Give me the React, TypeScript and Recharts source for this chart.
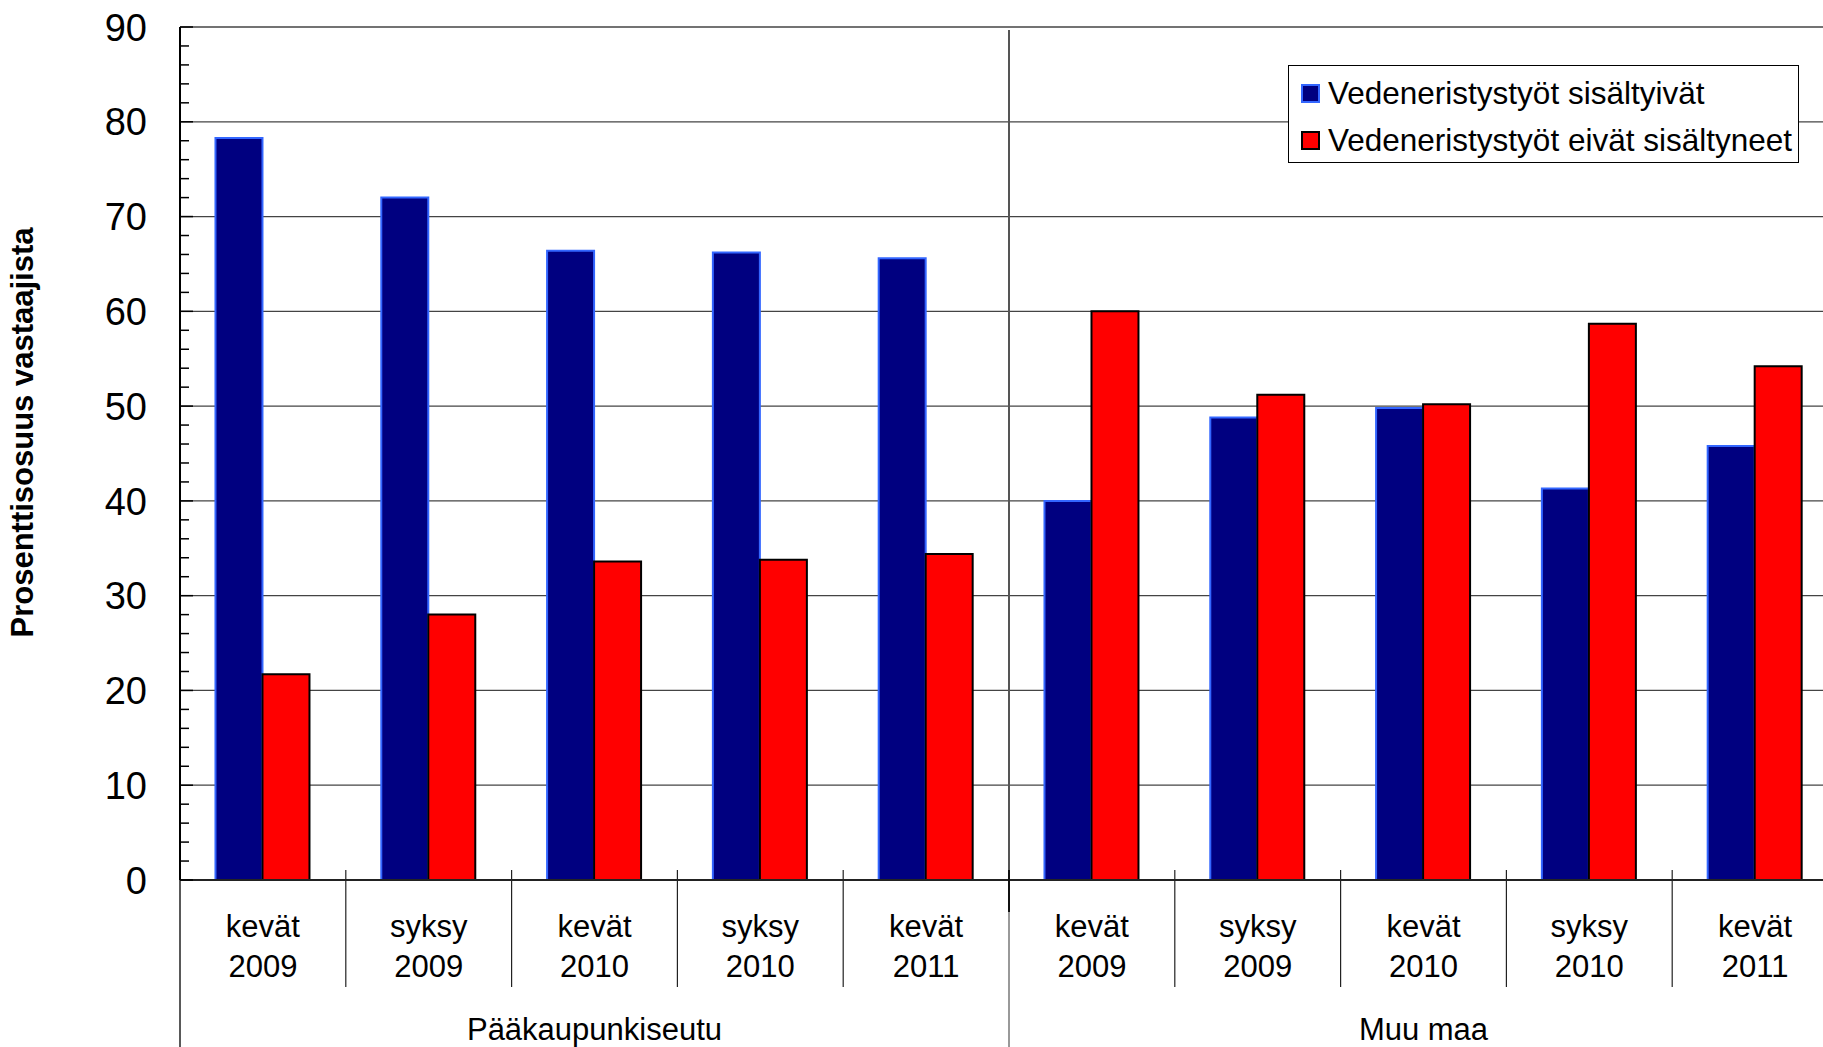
import { BarChart, Bar, XAxis, YAxis, CartesianGrid, Legend } from "recharts";

const seasons = ["kevät 2009", "syksy 2009", "kevät 2010", "syksy 2010", "kevät 2011"];
const regions = ["Pääkaupunkiseutu", "Muu maa"];

// % of respondents, per region, per season
const includedCapital = [78.3, 72.0, 66.4, 66.2, 65.6];
const excludedCapital = [21.7, 28.0, 33.6, 33.8, 34.4];
const includedRest = [40.0, 48.8, 49.8, 41.3, 45.8];
const excludedRest = [60.0, 51.2, 50.2, 58.7, 54.2];

const seriesNames = ["Vedeneristystyöt sisältyivät", "Vedeneristystyöt eivät sisältyneet"];
const yTitle = "Prosenttisosuus vastaajista";
const majorTicks = [0, 10, 20, 30, 40, 50, 60, 70, 80, 90];
const minorTicks = [
  0, 2, 4, 6, 8, 10, 12, 14, 16, 18, 20, 22, 24, 26, 28, 30, 32, 34, 36, 38, 40, 42, 44, 46,
  48, 50, 52, 54, 56, 58, 60, 62, 64, 66, 68, 70, 72, 74, 76, 78, 80, 82, 84, 86, 88, 90,
];

const data = regions.flatMap((region, r) =>
  seasons.map((season, i) => ({
    key: `${season}|${region}`,
    season,
    region,
    pos: i,
    included: (r === 0 ? includedCapital : includedRest)[i],
    excluded: (r === 0 ? excludedCapital : excludedRest)[i],
  }))
);

const series = [
  { key: "included", name: seriesNames[0], fill: "#000080", stroke: "#3366ff" },
  { key: "excluded", name: seriesNames[1], fill: "#ff0000", stroke: "#000000" },
];

const FONT = "'Liberation Sans', Arial, sans-serif";
const PLOT_TOP = 27;
const PLOT_H = 853;
const X_AXIS_H = 167;
const Y_MAX = 90;

// gridlines only at the labelled values (the axis itself carries ticks every 2)
const gridRows = majorTicks.filter((v) => v > 0).map((v) => PLOT_TOP + PLOT_H * (1 - v / Y_MAX));

function YTick({ x, y, payload }: any) {
  const major = payload.value % 10 === 0;
  return (
    <g>
      <line x1={x} x2={x + (major ? 13 : 9)} y1={y} y2={y} stroke="#000" strokeWidth={1.5} />
      {major && (
        <text x={x - 33} y={y} dy="0.36em" textAnchor="end" fontSize={38} fontFamily={FONT} fill="#000">
          {payload.value}
        </text>
      )}
    </g>
  );
}

function XTick({ x, y, payload, index }: any) {
  const row = data[index];
  if (!row) return null;
  const half = payload?.offset || 82.9;
  const [word, year] = row.season.split(" ");
  const last = index === data.length - 1;
  const groupEnd = row.pos === seasons.length - 1;
  const txt = { textAnchor: "middle" as const, fontFamily: FONT, fill: "#000" };
  return (
    <g>
      <text x={x} y={y + 57} fontSize={31} {...txt}>{word}</text>
      <text x={x} y={y + 97} fontSize={31} {...txt}>{year}</text>
      {row.pos === Math.floor(seasons.length / 2) && (
        <text x={x} y={y + 160} fontSize={31} {...txt}>{row.region}</text>
      )}
      {index === 0 && (
        <line x1={x - half} x2={x - half} y1={y} y2={y + X_AXIS_H} stroke="#222" strokeWidth={1.5} />
      )}
      {!last && !groupEnd && (
        <line x1={x + half} x2={x + half} y1={y - 10} y2={y + 107} stroke="#222" strokeWidth={1.2} />
      )}
      {!last && groupEnd && (
        <g>
          <line x1={x + half} x2={x + half} y1={y - PLOT_H + 3} y2={y - 10} stroke="#555" strokeWidth={2} />
          <line x1={x + half} x2={x + half} y1={y - 10} y2={y + 32} stroke="#111" strokeWidth={2} />
          <line x1={x + half} x2={x + half} y1={y + 32} y2={y + X_AXIS_H} stroke="#777" strokeWidth={1.5} />
        </g>
      )}
    </g>
  );
}

function YTitle({ viewBox }: any) {
  const cx = Math.max(viewBox?.x ?? 0, 0) + 22;
  const cy = (viewBox?.y ?? PLOT_TOP) + (viewBox?.height ?? PLOT_H) / 2 - 21;
  return (
    <text
      x={cx}
      y={cy}
      dy="0.35em"
      transform={`rotate(-90 ${cx} ${cy})`}
      textAnchor="middle"
      fontSize={31}
      fontWeight="bold"
      fontFamily={FONT}
      fill="#000"
    >
      {yTitle}
    </text>
  );
}

function LegendBox({ payload }: any) {
  const items = [...(payload ?? [])].sort(
    (a: any, b: any) =>
      series.findIndex((s) => s.key === a.dataKey) - series.findIndex((s) => s.key === b.dataKey)
  );
  return (
    <div
      style={{
        position: "relative",
        width: 511,
        height: 98,
        boxSizing: "border-box",
        border: "1px solid #000",
        background: "#fff",
        fontFamily: FONT,
        fontSize: 31.5,
        color: "#000",
      }}
    >
      {items.map((p: any, i: number) => {
        const s = series.find((d) => d.key === p.dataKey) ?? series[i];
        return (
          <div key={i} style={{ position: "absolute", left: 0, top: 4 + i * 47, height: 47, display: "flex", alignItems: "center", whiteSpace: "nowrap" }}>
            <span
              style={{
                display: "inline-block",
                marginLeft: 12,
                width: 19,
                height: 19,
                boxSizing: "border-box",
                background: s.fill,
                border: `2px solid ${s.stroke}`,
              }}
            />
            <span style={{ marginLeft: 8 }}>{p.value}</span>
          </div>
        );
      })}
    </div>
  );
}

export default function App() {
  return (
    <div style={{ position: "fixed", left: 0, top: 0, width: 1823, height: 1047, overflow: "hidden", background: "#fff" }}>
      <BarChart
        width={1860}
        height={1047}
        data={data}
        margin={{ top: PLOT_TOP, right: 22, bottom: 0, left: 0 }}
        barCategoryGap="21.4%"
        barGap={0}
      >
        <CartesianGrid vertical={false} stroke="#444" strokeWidth={1.3} horizontalPoints={gridRows} />
        <XAxis
          dataKey="key"
          interval={0}
          height={X_AXIS_H}
          tickSize={0}
          tickMargin={0}
          tickLine={false}
          axisLine={{ stroke: "#222", strokeWidth: 2 }}
          tick={<XTick />}
        />
        <YAxis
          width={180}
          domain={[0, Y_MAX]}
          ticks={minorTicks}
          interval={0}
          tickSize={0}
          tickMargin={0}
          tickLine={false}
          axisLine={{ stroke: "#000", strokeWidth: 2 }}
          tick={<YTick />}
          label={{ content: YTitle }}
        />
        <Legend
          layout="vertical"
          verticalAlign="middle"
          align="center"
          content={<LegendBox />}
          wrapperStyle={{ left: 1288, top: 65, width: 511, height: 98 }}
        />
        {series.map((s) => (
          <Bar
            key={s.key}
            dataKey={s.key}
            name={s.name}
            fill={s.fill}
            stroke={s.stroke}
            strokeWidth={2}
            isAnimationActive={false}
          />
        ))}
      </BarChart>
    </div>
  );
}
